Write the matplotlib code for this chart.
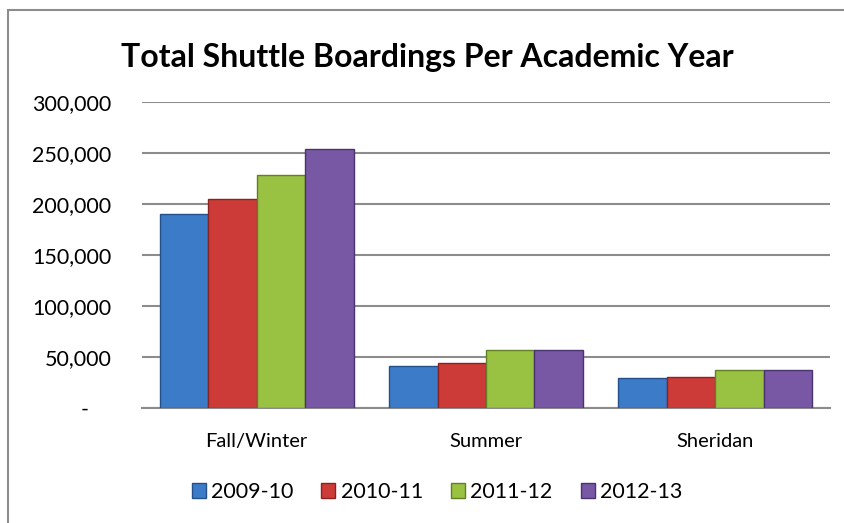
import matplotlib
matplotlib.use("Agg")
import matplotlib.pyplot as plt
import numpy as np
from matplotlib.ticker import FuncFormatter
from matplotlib.patches import Rectangle

categories = ["Fall/Winter", "Summer", "Sheridan"]
series_names = ["2009-10", "2010-11", "2011-12", "2012-13"]
v_2009 = [190000, 41000, 29000]
v_2010 = [205000, 44000, 30500]
v_2011 = [228000, 57000, 37000]
v_2012 = [253500, 57000, 37000]
yticks = [0, 50000, 100000, 150000, 200000, 250000, 300000]

values = [v_2009, v_2010, v_2011, v_2012]
colors = ["#3C7BC8", "#CD3B38", "#99C243", "#7857A4"]
edges = ["#24508a", "#8a2220", "#627f25", "#4a3470"]

plt.rcParams['font.family'] = ['Lato', 'DejaVu Sans']

fig = plt.figure(figsize=(8.45, 5.23), dpi=100)
ax = fig.add_axes([142/845, 1 - 408/523, (830-142)/845, (408-102)/523])

x = np.arange(len(categories))
bw = 0.845 / 4
for i, (vals, c, ec, name) in enumerate(zip(values, colors, edges, series_names)):
    ax.bar(x - 0.845/2 + bw*(i+0.5), vals, width=bw, color=c, edgecolor=ec,
           linewidth=1.0, label=name, zorder=3)

ax.set_xlim(-0.5, 2.5)
ax.set_ylim(0, 300000)
ax.set_yticks(yticks)
ax.yaxis.set_major_formatter(FuncFormatter(lambda v, p: "-    " if v == 0 else f"{int(v):,}"))
ax.grid(axis='y', color='#8c8c8c', linewidth=1.5, zorder=0)
ax.set_axisbelow(True)
for s in ['left', 'right', 'top']:
    ax.spines[s].set_visible(False)
ax.spines['bottom'].set_color('#8c8c8c')
ax.spines['bottom'].set_linewidth(1.5)
ax.tick_params(axis='y', length=0, pad=22, labelsize=15.5, labelcolor='#000000')
ax.tick_params(axis='x', length=0, pad=18, labelsize=14.5)
ax.set_xticks(x)
ax.set_xticklabels(categories)

fig.text(427/845, 1 - 57/523, "Total Shuttle Boardings Per Academic Year",
         ha='center', va='center', fontsize=23, fontweight='bold')

leg = fig.legend(loc='center', bbox_to_anchor=(437/845, 1 - 492/523), ncol=4,
                 frameon=False, fontsize=15.5, handlelength=0.65, handleheight=0.65,
                 handletextpad=0.25, columnspacing=1.3)

# outer chart border (left and top visible)
fig.patches.append(Rectangle((8/845, -0.05), 1.1, 1 - 10/523 + 0.05, transform=fig.transFigure,
                             fill=False, edgecolor='#8c8c8c', linewidth=1.5))

fig.savefig("out.png", dpi=100)
